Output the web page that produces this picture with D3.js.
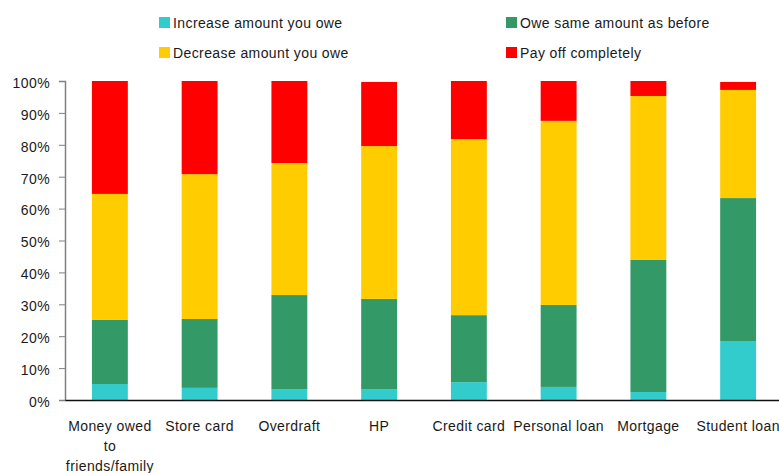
<!DOCTYPE html>
<meta charset="utf-8">
<style>
body { margin: 0; background: #fff; }
svg { font-family: "Liberation Sans", Arial, sans-serif; }
text { fill: #1a1a1a; font-size: 14px; letter-spacing: 0.4px; }
</style>
<body>
<svg width="779" height="473"></svg>
<script src="https://d3js.org/d3.v7.min.js"></script>
<script>

var categories = ["Money owed\nto\nfriends/family", "Store card", "Overdraft", "HP",
                  "Credit card", "Personal loan", "Mortgage", "Student loan"];
var seriesNames = ["Increase amount you owe", "Owe same amount as before",
                   "Decrease amount you owe", "Pay off completely"];
var increase = [5.0, 3.8, 3.4, 3.4, 5.6, 4.1, 2.5, 18.5];
var same     = [20.1, 21.6, 29.5, 28.3, 21.0, 25.7, 41.4, 44.8];
var decrease = [39.5, 45.4, 41.4, 47.9, 55.2, 57.7, 51.4, 33.9];
var payoff   = [35.4, 29.2, 25.7, 20.1, 18.2, 12.5, 4.7, 2.5];
var yTicks = [0, 10, 20, 30, 40, 50, 60, 70, 80, 90, 100];

var colors = ["#33cccc", "#339966", "#ffcc00", "#ff0000"];

var svg = d3.select("svg");
var margin = {left: 65, right: -4, top: 81, bottom: 73};
var width = 779 - margin.left - margin.right,
    height = 473 - margin.top - margin.bottom;

var rows = categories.map(function(c, i) {
  return {cat: c, s0: increase[i], s1: same[i], s2: decrease[i], s3: payoff[i]};
});
var stack = d3.stack().keys(["s0", "s1", "s2", "s3"]);
var layers = stack(rows);

var x = d3.scaleBand().domain(categories).range([0, width])
    .paddingInner(0.6).paddingOuter(0.3);
var y = d3.scaleLinear().domain([0, 100]).range([height, 0]);

var g = svg.append("g").attr("transform", "translate(" + margin.left + "," + margin.top + ")");

g.selectAll("g.layer")
    .data(layers)
  .enter().append("g")
    .attr("class", "layer")
    .attr("fill", function(d, i) { return colors[i]; })
  .selectAll("rect")
    .data(function(d) { return d; })
  .enter().append("rect")
    .attr("x", function(d) { return x(d.data.cat); })
    .attr("width", x.bandwidth())
    .attr("y", function(d) { return y(d[1]); })
    .attr("height", function(d) { return y(d[0]) - y(d[1]); });

// y axis
var yAxis = g.append("g")
    .call(d3.axisLeft(y).tickValues(yTicks).tickSize(6).tickPadding(9)
      .tickFormat(function(d) { return d + "%"; }));
yAxis.select(".domain").attr("stroke", "#808080").attr("stroke-width", 1.5);
yAxis.selectAll(".tick line").attr("stroke", "#808080");
yAxis.selectAll("text").style("font-size", "14px").attr("dy", "0.45em");

// x axis
var xAxis = g.append("g")
    .attr("transform", "translate(0," + height + ")")
    .call(d3.axisBottom(x).tickSize(0).tickFormat(""));
xAxis.select(".domain").attr("stroke", "#111").attr("stroke-width", 1.5);

xAxis.selectAll(".tick").append("text")
    .attr("text-anchor", "middle")
    .selectAll("tspan")
    .data(function(d) { return d.split("\n"); })
  .enter().append("tspan")
    .attr("x", 0)
    .attr("y", function(d, i) { return 31 + i * 20; })
    .text(function(d) { return d; });

// legend
var legendPos = [[159, 17], [506, 17], [159, 47], [506, 47]];
var legend = svg.selectAll("g.legend")
    .data(seriesNames)
  .enter().append("g")
    .attr("class", "legend")
    .attr("transform", function(d, i) { return "translate(" + legendPos[i][0] + "," + legendPos[i][1] + ")"; });
legend.append("rect")
    .attr("width", 11).attr("height", 11)
    .attr("fill", function(d, i) { return colors[i]; });
legend.append("text")
    .attr("x", 14).attr("y", 11)
    .text(function(d) { return d; });

</script>
</body>
